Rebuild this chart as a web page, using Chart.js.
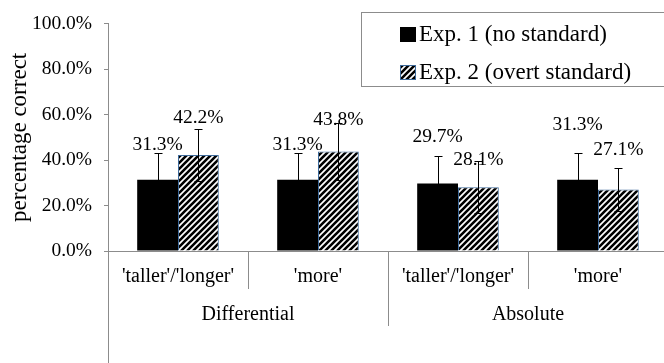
<!DOCTYPE html>
<html>
<head>
<meta charset="utf-8">
<script src="https://cdn.jsdelivr.net/npm/chart.js@4.4.0/dist/chart.umd.min.js"></script>
<style>
  html, body { margin: 0; padding: 0; background: #fff; overflow: hidden; }
  #wrap { width: 664px; height: 363px; overflow: hidden; }
</style>
</head>
<body>
<div id="wrap"><canvas id="myChart" width="668" height="363"></canvas></div>
<script>
// values
const categories = ["'taller'/'longer'", "'more'", "'taller'/'longer'", "'more'"];
const groups = ['Differential', 'Absolute'];
const seriesNames = ['Exp. 1 (no standard)', 'Exp. 2 (overt standard)'];
const exp1 = [31.3, 31.3, 29.7, 31.3];
const exp2 = [42.2, 43.8, 28.1, 27.1];
const err1 = [12.0, 12.0, 11.9, 12.0];
const err2 = [11.5, 12.7, 11.4, 9.6];
const yTicks = [0, 20, 40, 60, 80, 100];

// how far each value label sits above its error bar (px), they were hand placed
const lift1 = [8, 8, 20, 28];
const lift2 = [11, 3, 1, 18];

const serif = '"Liberation Serif", "Times New Roman", serif';
const axisGray = '#8c8c8c';

//diagonal stripes for the second series
function makeHatch() {
    const n = 6;
    const c = document.createElement('canvas');
    c.width = n; c.height = n;
    const g = c.getContext('2d');
    g.fillStyle = '#fff';
    g.fillRect(0, 0, n, n);
    g.strokeStyle = '#000';
    g.lineWidth = 2.6;
    g.beginPath();
    g.moveTo(0, n); g.lineTo(n, 0);
    g.moveTo(-n / 2, n / 2); g.lineTo(n / 2, -n / 2);
    g.moveTo(n / 2, n * 1.5); g.lineTo(n * 1.5, n / 2);
    g.stroke();
    return g.createPattern(c, 'repeat');
}
const ctx = document.getElementById('myChart');
const hatch = makeHatch();

//error bars, value labels, group axis and legend
const extras = {
    id: 'extras',
    afterDatasetsDraw(chart) {
        const c = chart.ctx;
        const y = chart.scales.y;
        const sets = [[exp1, err1, lift1], [exp2, err2, lift2]];
        c.save();
        sets.forEach(([vals, errs], d) => {
            chart.getDatasetMeta(d).data.forEach((bar, i) => {
                const cx = Math.round(bar.x) + 0.5;
                const top = Math.round(y.getPixelForValue(vals[i] + errs[i])) + 0.5;
                const bot = Math.round(y.getPixelForValue(vals[i] - errs[i])) + 0.5;
                c.strokeStyle = '#000';
                c.lineWidth = 1;
                c.beginPath();
                c.moveTo(cx, top); c.lineTo(cx, bot);
                c.moveTo(cx - 4, top); c.lineTo(cx + 4, top);
                c.moveTo(cx - 4, bot); c.lineTo(cx + 4, bot);
                c.stroke();
            });
        });
        c.font = '19.5px ' + serif;
        c.fillStyle = '#000';
        c.textAlign = 'center';
        c.textBaseline = 'middle';
        sets.forEach(([vals, errs, lift], d) => {
            chart.getDatasetMeta(d).data.forEach((bar, i) => {
                const top = y.getPixelForValue(vals[i] + errs[i]);
                c.fillText(vals[i].toFixed(1) + '%', bar.x, top - lift[i]);
            });
        });
        c.restore();
    },
    afterDraw(chart) {
        const c = chart.ctx;
        const x = chart.scales.x;
        c.save();
        c.strokeStyle = axisGray;
        c.lineWidth = 1;
        const lx = Math.round(x.left) + 0.5;
        const mid = Math.round((x.getPixelForValue(1) + x.getPixelForValue(2)) / 2) + 0.5;
        c.beginPath();
        c.moveTo(lx, x.top); c.lineTo(lx, chart.height);
        c.moveTo(mid, x.top); c.lineTo(mid, x.top + 75);
        c.stroke();
        c.font = '20px ' + serif;
        c.fillStyle = '#000';
        c.textAlign = 'center';
        c.textBaseline = 'middle';
        groups.forEach((g, k) => {
            const gx = (x.getPixelForValue(2 * k) + x.getPixelForValue(2 * k + 1)) / 2;
            c.fillText(g, gx, x.top + 64);
        });

        // legend box
        c.strokeStyle = axisGray;
        c.strokeRect(361.5, 12.5, 400, 74);
        c.font = '23px ' + serif;
        c.textAlign = 'left';
        chart.data.datasets.forEach((ds, d) => {
            const cy = 34 + d * 38;
            c.fillStyle = ds.backgroundColor;
            c.fillRect(400, cy - 7, 16, 15);
            if (ds.borderWidth) {
                c.strokeStyle = ds.borderColor;
                c.strokeRect(400.5, cy - 6.5, 15, 14);
            }
            c.fillStyle = '#000';
            c.fillText(ds.label, 419, cy + 1);
        });
        c.restore();
    }
};

new Chart(ctx, {
    type: 'bar',
    data: {
        labels: categories,
        datasets: [{
            label: seriesNames[0],
            data: exp1,
            backgroundColor: '#000',
            borderWidth: 0
        }, {
            label: seriesNames[1],
            data: exp2,
            backgroundColor: hatch,
            borderColor: '#3e6a9a',
            borderWidth: 1
        }]
    },
    options: {
        responsive: false,
        animation: false,
        layout: { padding: { top: 13, right: 0, left: 0, bottom: 0 } },
        datasets: { bar: { categoryPercentage: 0.583, barPercentage: 1.0 } },
        plugins: {
            legend: { display: false },
            tooltip: { enabled: false }
        },
        scales: {
            x: {
                grid: { offset: true, drawOnChartArea: false, tickLength: 38, color: axisGray },
                border: { color: axisGray },
                ticks: {
                    color: '#000',
                    font: { family: serif, size: 20 },
                    padding: -24,
                    maxRotation: 0,
                    autoSkip: false
                },
                afterFit: s => { s.height = 112; }
            },
            y: {
                min: 0,
                max: 100,
                afterBuildTicks: s => { s.ticks = yTicks.map(v => ({ value: v })); },
                grid: { drawOnChartArea: false, tickLength: 4, color: axisGray },
                border: { color: axisGray },
                ticks: {
                    color: '#000',
                    font: { family: serif, size: 19.5 },
                    padding: 12,
                    callback: v => v.toFixed(1) + '%'
                },
                title: {
                    display: true,
                    text: 'percentage correct',
                    color: '#000',
                    font: { family: serif, size: 23 },
                    padding: { top: 6, bottom: 0 }
                },
                afterFit: s => { s.width = 108; }
            }
        }
    },
    plugins: [extras]
});
</script>
</body>
</html>
